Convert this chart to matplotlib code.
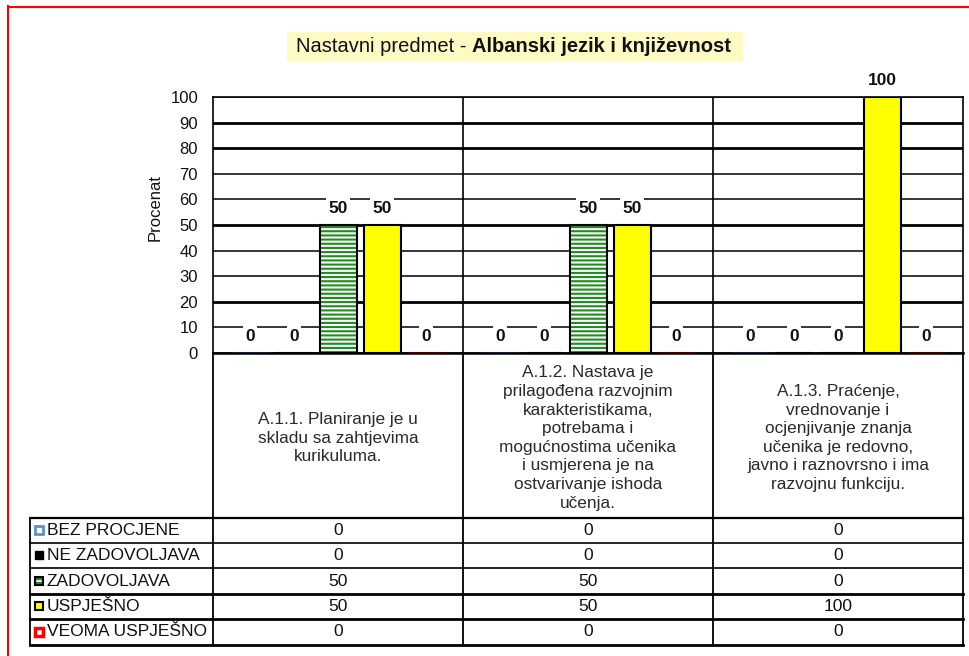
import matplotlib
matplotlib.use("Agg")
import matplotlib.pyplot as plt
from matplotlib.patches import Rectangle
import numpy as np

plt.rcParams['font.family'] = ['Liberation Sans', 'DejaVu Sans']
plt.rcParams['hatch.linewidth'] = 1.5

# ---------------- data ----------------
categories = [
    "A.1.1. Planiranje je u\nskladu sa zahtjevima\nkurikuluma.",
    "A.1.2. Nastava je\nprilagođena razvojnim\nkarakteristikama,\npotrebama i\nmogućnostima učenika\ni usmjerena je na\nostvarivanje ishoda\nučenja.",
    "A.1.3. Praćenje,\nvrednovanje i\nocjenjivanje znanja\nučenika je redovno,\njavno i raznovrsno i ima\nrazvojnu funkciju.",
]
series_names = ["BEZ PROCJENE", "NE ZADOVOLJAVA", "ZADOVOLJAVA", "USPJEŠNO", "VEOMA USPJEŠNO"]
bez_procjene = [0, 0, 0]
ne_zadovoljava = [0, 0, 0]
zadovoljava = [50, 50, 0]
uspjesno = [50, 50, 100]
veoma_uspjesno = [0, 0, 0]
yticks = [0, 10, 20, 30, 40, 50, 60, 70, 80, 90, 100]
title_normal = "Nastavni predmet -"
title_bold = "Albanski jezik i književnost"
ylabel = "Procenat"

series = [bez_procjene, ne_zadovoljava, zadovoljava, uspjesno, veoma_uspjesno]

# ---------------- layout ----------------
W, H = 969, 656
fig = plt.figure(figsize=(W / 100, H / 100), dpi=100)

ov = fig.add_axes([0, 0, 1, 1], zorder=0)
ov.set_xlim(0, W)
ov.set_ylim(H, 0)
ov.axis('off')

PL, PR, PT, PB = 213, 963, 97, 353
ax = fig.add_axes([PL / W, 1 - PB / H, (PR - PL) / W, (PB - PT) / H], zorder=1)

styles = [
    dict(facecolor='white', edgecolor='#4A7EBB'),
    dict(facecolor='black', edgecolor='black'),
    dict(facecolor='white', edgecolor='#1E8C1E', hatch='----'),
    dict(facecolor='#FFFF00', edgecolor='black'),
    dict(facecolor='white', edgecolor='#FF0000'),
]

x = np.arange(len(categories))
slot = 0.176
width = 0.148
for i, vals in enumerate(series):
    xs = x + (i - 2) * slot
    if i == 2:
        ax.bar(xs, vals, width, linewidth=0, zorder=3, **styles[i])
        ax.bar(xs, vals, width, fill=False, edgecolor='black', linewidth=1.5, zorder=4)
    else:
        ax.bar(xs, vals, width, linewidth=1.5, zorder=3, **styles[i])
    for xi, v in zip(xs, vals):
        ax.annotate(f"{v}", (xi, v), xytext=(0, 12.2), textcoords='offset points',
                    ha='center', va='center', fontsize=12.5, fontweight='bold',
                    color='#111111',
                    bbox=dict(boxstyle='square,pad=0.12', fc='white', ec='none'),
                    zorder=5, annotation_clip=False)

ax.set_xlim(-0.5, len(categories) - 0.5)
ax.set_ylim(0, 100)
ax.set_xticks([])
ax.set_yticks(yticks)
ax.tick_params(axis='y', length=0, pad=10.8, labelsize=12, labelcolor='#111111')
ax.set_axisbelow(True)
ax.yaxis.grid(True, color='black')
for gl, v in zip(ax.get_ygridlines(), yticks):
    gl.set_linewidth(2.0 if v in (20, 50, 80, 90) else 1.1)
for c in range(1, len(categories)):
    ax.axvline(c - 0.5, color='black', lw=1.2, zorder=2)
for s in ax.spines.values():
    s.set_linewidth(1.2)
    s.set_zorder(6)
ax.spines['bottom'].set_linewidth(1.8)
ax.set_ylabel(ylabel, fontsize=12, color='#111111')
ax.yaxis.set_label_coords(-0.0667, 0.57)

# ---------------- title ----------------
ov.add_patch(Rectangle((287, 32), 456, 29, facecolor='#FFF9C4', edgecolor='none'))
ov.text(467, 47, title_normal, ha='right', va='center', fontsize=14.5, color='#111111')
ov.text(472, 47, title_bold, ha='left', va='center', fontsize=14.5, fontweight='bold', color='#111111')

# ---------------- table ----------------
col_x = [213, 463, 713, 963]
row_y = [518, 543, 568, 594, 619, 645]
row_lw = [1.6, 1.2, 1.2, 2.0, 2.0, 2.0]
for cx in col_x:
    ov.plot([cx, cx], [PB, row_y[-1]], color='black', lw=1.3)
ov.plot([30, 30], [row_y[0], row_y[-1]], color='black', lw=1.3)
for ry, lw in zip(row_y, row_lw):
    ov.plot([30, 963], [ry, ry], color='black', lw=lw)

centers = [(col_x[k] + col_x[k + 1]) / 2 for k in range(len(categories))]
for cxm, lab in zip(centers, categories):
    ov.text(cxm, 438, lab, ha='center', va='center', fontsize=12.4,
            linespacing=1.3, color='#2a2a2a')

key_styles = [
    dict(facecolor='white', edgecolor='#5B8FD8', lw=2.0),
    dict(facecolor='black', edgecolor='black', lw=1.0),
    dict(facecolor='#1E8C1E', edgecolor='black', lw=1.5),
    dict(facecolor='#FFFF00', edgecolor='black', lw=1.5),
    dict(facecolor='white', edgecolor='#FF0000', lw=2.5),
]
for r, (name, vals) in enumerate(zip(series_names, series)):
    yc = (row_y[r] + row_y[r + 1]) / 2
    ov.add_patch(Rectangle((35.5, yc - 4.5), 8, 8, **key_styles[r]))
    if r == 2:
        ov.plot([37.5, 41.5], [yc - 0.5, yc - 0.5], color='white', lw=1.2)
    ov.text(47, yc, name, ha='left', va='center', fontsize=12.5, color='#111111')
    for cxm, v in zip(centers, vals):
        ov.text(cxm, yc, f"{v}", ha='center', va='center', fontsize=12.5, color='#111111')

# ---------------- frame ----------------
ov.plot([8.5, 8.5], [6, H], color='red', lw=1.5)
ov.plot([8, W], [6.5, 6.5], color='red', lw=1.5)

fig.savefig("out.png", dpi=100)
